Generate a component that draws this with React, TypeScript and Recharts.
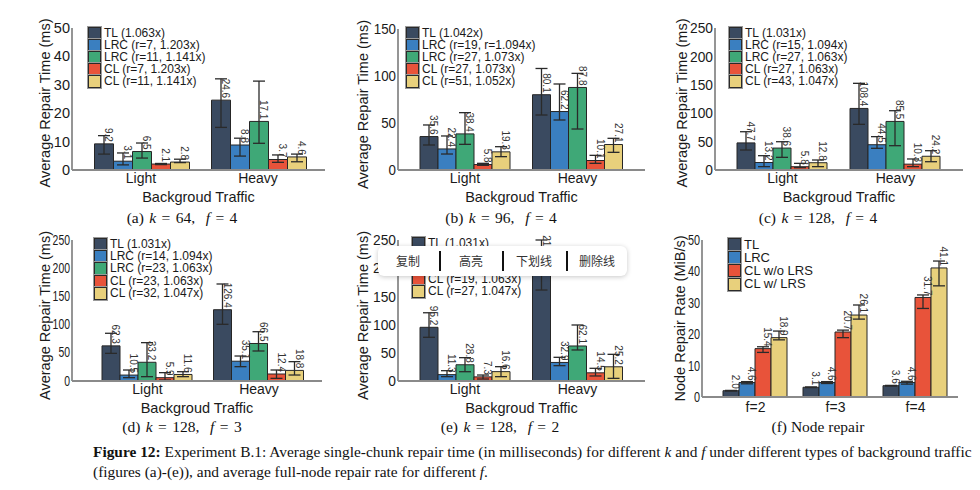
import React from "react";
import { BarChart, Bar, XAxis, YAxis, ErrorBar, LabelList } from "recharts";

const FONT = "'Liberation Sans', Arial, sans-serif";
const SERIF = "'Liberation Serif', 'Times New Roman', serif";

const TRAFFIC = ["Light", "Heavy"];
const NODE_F = ["f=2", "f=3", "f=4"];

const COLORS = ["#3a4a60", "#3a7fc0", "#3fa877", "#e8533a", "#e8d07c"];
const F_COLORS = ["#3a4a60", "#3a7fc0", "#e8533a", "#e8d07c"];

// (a) k=64, f=4  -- each row is one series: [Light, Heavy]
const A_LEGEND = ["TL (1.063x)", "LRC (r=7, 1.203x)", "LRC (r=11, 1.141x)", "CL (r=7, 1.203x)", "CL (r=11, 1.141x)"];
const A_VALUES = [[9.2, 24.6], [3.1, 8.8], [6.5, 17.1], [2.1, 3.7], [2.8, 4.6]];
const A_LOW = [[5.6, 15.0], [1.8, 4.9], [4.2, 9.4], [1.9, 2.7], [2.6, 2.9]];
const A_HIGH = [[12.1, 32.1], [6.0, 11.2], [9.5, 31.3], [2.3, 5.3], [3.8, 5.6]];

// (b) k=96, f=4
const B_LEGEND = ["TL (1.042x)", "LRC (r=19, r=1.094x)", "LRC (r=27, 1.073x)", "CL (r=27, 1.073x)", "CL (r=51, 1.052x)"];
const B_VALUES = [[35.6, 80.1], [22.4, 62.2], [38.4, 87.8], [5.8, 10.1], [19.3, 27.1]];
const B_LOW = [[26.6, 58.5], [17.0, 53.2], [27.3, 43.6], [5.0, 7.1], [14.2, 18.8]];
const B_HIGH = [[47.9, 108.0], [36.2, 91.5], [61.0, 102.8], [7.1, 15.6], [24.8, 33.7]];

// (c) k=128, f=4
const C_LEGEND = ["TL (1.031x)", "LRC (r=15, 1.094x)", "LRC (r=27, 1.063x)", "CL (r=27, 1.063x)", "CL (r=43, 1.047x)"];
const C_VALUES = [[47.7, 108.4], [13.2, 44.5], [38.6, 85.5], [5.8, 10.3], [12.8, 24.2]];
const C_LOW = [[35.2, 80.4], [5.9, 38.2], [22.3, 42.8], [4.1, 5.9], [5.9, 14.6]];
const C_HIGH = [[67.4, 152.6], [25.2, 58.7], [49.8, 104.4], [11.7, 19.4], [17.6, 34.0]];

// (d) k=128, f=3
const D_LEGEND = ["TL (1.031x)", "LRC (r=14, 1.094x)", "LRC (r=23, 1.063x)", "CL (r=23, 1.063x)", "CL (r=32, 1.047x)"];
const D_VALUES = [[62.3, 126.4], [10.5, 35.1], [33.2, 66.5], [5.9, 12.4], [11.6, 18.8]];
const D_LOW = [[49.0, 100.5], [5.9, 25.4], [7.7, 53.2], [1.8, 4.7], [7.7, 10.6]];
const D_HIGH = [[84.6, 172.0], [19.5, 44.3], [68.0, 87.4], [14.8, 19.5], [16.5, 34.3]];

// (e) k=128, f=2 -- the two LRC legend rows are hidden under the popup in the screenshot
const E_LEGEND = ["TL (1.031x)", null, null, "CL (r=19, 1.063x)", "CL (r=27, 1.047x)"];
const E_VALUES = [[95.2, 210.5], [11.3, 32.9], [28.8, 62.1], [7.3, 14.5], [16.6, 25.2]];
const E_LOW = [[77.5, 161.3], [7.7, 27.2], [16.5, 55.0], [3.5, 8.9], [7.7, 4.7]];
const E_HIGH = [[121.0, 250.0], [18.3, 42.0], [41.4, 99.3], [10.6, 22.5], [25.4, 47.3]];

// (f) node repair rate: [f=2, f=3, f=4]
const F_LEGEND = ["TL", "LRC", "CL w/o LRS", "CL w/ LRS"];
const F_VALUES = [[2.0, 3.1, 3.6], [4.6, 4.6, 4.6], [15.4, 20.7, 31.7], [18.9, 26.1, 41.1]];
const F_LOW = [[1.9, 3.0, 3.5], [4.2, 4.3, 4.1], [14.2, 18.9, 28.2], [18.2, 24.8, 35.4]];
const F_HIGH = [[2.1, 3.2, 3.7], [4.9, 4.9, 5.0], [16.0, 21.3, 32.5], [21.0, 29.3, 43.3]];

const TICKS_50 = [0, 10, 20, 30, 40, 50];
const TICKS_150 = [0, 50, 100, 150];
const TICKS_250 = [0, 50, 100, 150, 200, 250];

function buildRows(cats: string[], values: number[][], lows: number[][], highs: number[][]) {
  return cats.map((name, i) => {
    const row: any = { name };
    values.forEach((s, j) => {
      row["s" + j] = s[i];
      row["e" + j] = [s[i] - lows[j][i], highs[j][i] - s[i]];
    });
    return row;
  });
}

const renderValue = (p: any) => {
  const cx = Number(p.x) + Number(p.width) / 2 + 4.5;
  const top = Number(p.y) - 2;
  return (
    <text
      x={cx}
      y={top}
      transform={`rotate(90, ${cx}, ${top})`}
      textAnchor="end"
      dominantBaseline="central"
      fontSize={10}
      fontFamily={FONT}
      fill="#333"
    >
      {Number(p.value).toFixed(1)}
    </text>
  );
};

// y tick labels are horizontally squeezed in some of the subfigures
const makeYTick = (sx: number) => (p: any) => (
  <text
    x={0}
    y={0}
    transform={`translate(${p.x}, ${p.y}) scale(${sx}, 1)`}
    textAnchor="end"
    dominantBaseline="central"
    fontSize={14.5}
    fontFamily={FONT}
    fill="#1a1a1a"
  >
    {p.payload.value}
  </text>
);

const YW = 62;
const MT = 12;
const MR = 4;

function Panel(props: any) {
  const {
    cats, legend, values, lows, highs, colors, domain, ticks, yTitle, xTitle,
    axisX, plotRight, plotTop, baseY, padL, padR, gap, yTitleDx, yTitleDy,
    legendX, legendY, legendRow, legendFont, tickGap, tickSx,
  } = props;
  const XH = xTitle ? 45 : 24;
  const left = axisX - YW;
  const top = plotTop - MT;
  const width = plotRight - left + MR;
  const height = baseY - top + XH;
  const rows = buildRows(cats, values, lows, highs);
  const plotH = baseY - plotTop;
  const axisColor = "#8a8a8a";
  const rowH = Math.floor(legendRow) - 1;

  return (
    <>
      <div style={{ position: "absolute", left, top }}>
        <BarChart
          width={width}
          height={height}
          data={rows}
          margin={{ top: MT, right: MR, bottom: 0, left: 0 }}
          barCategoryGap={gap}
          barGap={0}
        >
          <XAxis
            dataKey="name"
            type="category"
            interval={0}
            height={XH}
            padding={{ left: padL, right: padR }}
            tickLine={false}
            tickSize={0}
            tickMargin={tickGap}
            axisLine={{ stroke: axisColor, strokeWidth: 1.8 }}
            tick={{ fontSize: 14, fill: "#1a1a1a", fontFamily: FONT }}
            label={
              xTitle
                ? {
                    content: () => (
                      <text
                        x={YW + (plotRight - axisX) / 2}
                        y={MT + plotH + 27}
                        textAnchor="middle"
                        dominantBaseline="central"
                        fontSize={14.5}
                        fontFamily={FONT}
                        fill="#1a1a1a"
                      >
                        {xTitle}
                      </text>
                    ),
                  }
                : undefined
            }
          />
          <YAxis
            type="number"
            domain={domain}
            ticks={ticks}
            allowDataOverflow
            interval={0}
            width={YW}
            tickLine={false}
            tickSize={0}
            tickMargin={2}
            axisLine={{ stroke: axisColor, strokeWidth: 1.8 }}
            tick={makeYTick(tickSx)}
            label={{
              content: () => {
                const x = YW + yTitleDx;
                const y = MT + plotH / 2 + yTitleDy;
                return (
                  <text
                    x={x}
                    y={y}
                    transform={`rotate(-90, ${x}, ${y})`}
                    textAnchor="middle"
                    dominantBaseline="central"
                    fontSize={14.5}
                    fontFamily={FONT}
                    fill="#1a1a1a"
                  >
                    {yTitle}
                  </text>
                );
              },
            }}
          />
          {values.map((_: number[], j: number) => (
            <Bar
              key={j}
              dataKey={"s" + j}
              fill={colors[j]}
              stroke="#262626"
              strokeWidth={1}
              isAnimationActive={false}
            >
              <ErrorBar dataKey={"e" + j} width={6} stroke="#2a2a2a" strokeWidth={1.3} />
              <LabelList dataKey={"s" + j} content={renderValue} />
            </Bar>
          ))}
        </BarChart>
      </div>
      {legend.map((t: string | null, j: number) =>
        t === null ? null : (
          <div
            key={t}
            style={{
              position: "absolute",
              left: legendX,
              top: legendY + j * legendRow - rowH / 2,
              height: rowH,
              display: "flex",
              alignItems: "center",
              whiteSpace: "nowrap",
            }}
          >
            <div
              style={{
                width: 11,
                height: 11,
                background: colors[j],
                border: "1px solid #2a2a2a",
                outline: "1px solid #9a9a9a",
                marginRight: 3,
                flexShrink: 0,
              }}
            />
            <span style={{ fontFamily: FONT, fontSize: legendFont, color: "#1a1a1a", lineHeight: rowH + "px" }}>{t}</span>
          </div>
        )
      )}
    </>
  );
}

function Caption({ cx, cy, tag, k, f, text }: any) {
  return (
    <div
      style={{
        position: "absolute",
        left: cx - 100,
        top: cy - 10,
        width: 200,
        height: 20,
        lineHeight: "20px",
        textAlign: "center",
        fontFamily: SERIF,
        fontSize: 15.5,
        color: "#111",
        whiteSpace: "pre",
        wordSpacing: text ? 0 : 1.5,
      }}
    >
      {text ? (
        text
      ) : (
        <>
          {tag} <i>k</i> = {k},  <i>f</i> = {f}
        </>
      )}
    </div>
  );
}

const YT = "Average Repair Time (ms)";
const XT = "Backgroud Traffic";

export default function App() {
  return (
    <div
      style={{
        position: "absolute",
        left: 0,
        top: 0,
        width: 980,
        height: 490,
        background: "#fff",
        overflow: "hidden",
      }}
    >
      <Panel cats={TRAFFIC} legend={A_LEGEND} values={A_VALUES} lows={A_LOW} highs={A_HIGH} colors={COLORS}
        domain={[0, 50]} ticks={TICKS_50} yTitle={YT} xTitle={XT} tickSx={1}
        axisX={72} plotRight={325} plotTop={28} baseY={170} padL={10.5} padR={8.5} gap={12}
        yTitleDx={-27} yTitleDy={4} legendX={88} legendY={33} legendRow={12.2} legendFont={12} tickGap={3} />
      <Panel cats={TRAFFIC} legend={B_LEGEND} values={B_VALUES} lows={B_LOW} highs={B_HIGH} colors={COLORS}
        domain={[0, 150]} ticks={TICKS_150} yTitle={YT} xTitle={XT} tickSx={0.92}
        axisX={398} plotRight={645} plotTop={29} baseY={170} padL={10.75} padR={11.25} gap={11.25}
        yTitleDx={-35} yTitleDy={5} legendX={406} legendY={33} legendRow={12.2} legendFont={12} tickGap={3} />
      <Panel cats={TRAFFIC} legend={C_LEGEND} values={C_VALUES} lows={C_LOW} highs={C_HIGH} colors={COLORS}
        domain={[0, 250]} ticks={TICKS_250} yTitle={YT} xTitle={XT} tickSx={0.95}
        axisX={715} plotRight={963} plotTop={28} baseY={170} padL={11} padR={11} gap={11}
        yTitleDx={-33} yTitleDy={4} legendX={729} legendY={33} legendRow={12.2} legendFont={12} tickGap={3} />
      <Panel cats={TRAFFIC} legend={D_LEGEND} values={D_VALUES} lows={D_LOW} highs={D_HIGH} colors={COLORS}
        domain={[0, 250]} ticks={TICKS_250} yTitle={YT} xTitle={XT} tickSx={0.72}
        axisX={72} plotRight={322} plotTop={240} baseY={381} padL={19.75} padR={7.25} gap={10.25}
        yTitleDx={-27} yTitleDy={5} legendX={94} legendY={244.5} legendRow={12.2} legendFont={12} tickGap={3} />
      <Panel cats={TRAFFIC} legend={E_LEGEND} values={E_VALUES} lows={E_LOW} highs={E_HIGH} colors={COLORS}
        domain={[0, 250]} ticks={TICKS_250} yTitle={YT} xTitle={XT} tickSx={0.95}
        axisX={398} plotRight={645} plotTop={240} baseY={381} padL={10.75} padR={11.25} gap={11.25}
        yTitleDx={-35} yTitleDy={5} legendX={412} legendY={243} legendRow={12.2} legendFont={12} tickGap={3} />
      <Panel cats={NODE_F} legend={F_LEGEND} values={F_VALUES} lows={F_LOW} highs={F_HIGH} colors={F_COLORS}
        domain={[0, 50]} ticks={TICKS_50} yTitle="Node Repair Rate (MiB/s)" xTitle={null} tickSx={0.75}
        axisX={702} plotRight={958} plotTop={240} baseY={397} padL={13.5} padR={2.5} gap={7.5}
        yTitleDx={-22} yTitleDy={0} legendX={728} legendY={244.5} legendRow={13.2} legendFont={13} tickGap={5} />

      <Caption cx={182} cy={218} tag="(a)" k={64} f={4} />
      <Caption cx={501} cy={218} tag="(b)" k={96} f={4} />
      <Caption cx={818} cy={218} tag="(c)" k={128} f={4} />
      <Caption cx={182} cy={427} tag="(d)" k={128} f={3} />
      <Caption cx={500} cy={427} tag="(e)" k={128} f={2} />
      <Caption cx={818} cy={427} text="(f) Node repair" />

      {/* selection popup that sits over panel (e) in the screenshot */}
      <div
        style={{
          position: "absolute",
          left: 378,
          top: 246,
          width: 249,
          height: 30,
          background: "#fff",
          borderRadius: 6,
          boxShadow: "0 1px 5px rgba(0,0,0,0.22)",
          fontFamily: "'Noto Sans CJK SC', sans-serif",
          fontSize: 12,
          color: "#333",
        }}
      >
        {[
          ["复制", 30],
          ["高亮", 93],
          ["下划线", 156],
          ["删除线", 219],
        ].map(([t, c]) => (
          <span
            key={t as string}
            style={{ position: "absolute", left: (c as number) - 30, width: 60, textAlign: "center", top: 6, lineHeight: "18px" }}
          >
            {t}
          </span>
        ))}
        {[61, 124, 188].map((x) => (
          <div key={x} style={{ position: "absolute", left: x, top: 5, width: 1.5, height: 20, background: "#111" }} />
        ))}
      </div>

      <div
        style={{
          position: "absolute",
          left: 93,
          top: 442,
          fontFamily: SERIF,
          fontSize: 15.4,
          lineHeight: "20px",
          color: "#111",
          whiteSpace: "nowrap",
        }}
      >
        <div>
          <b>Figure 12:</b> Experiment B.1: Average single-chunk repair time (in milliseconds) for different <i>k</i> and{" "}
          <i>f</i> under different types of background traffic
        </div>
        <div>
          (figures (a)-(e)), and average full-node repair rate for different <i>f</i>.
        </div>
      </div>
    </div>
  );
}
